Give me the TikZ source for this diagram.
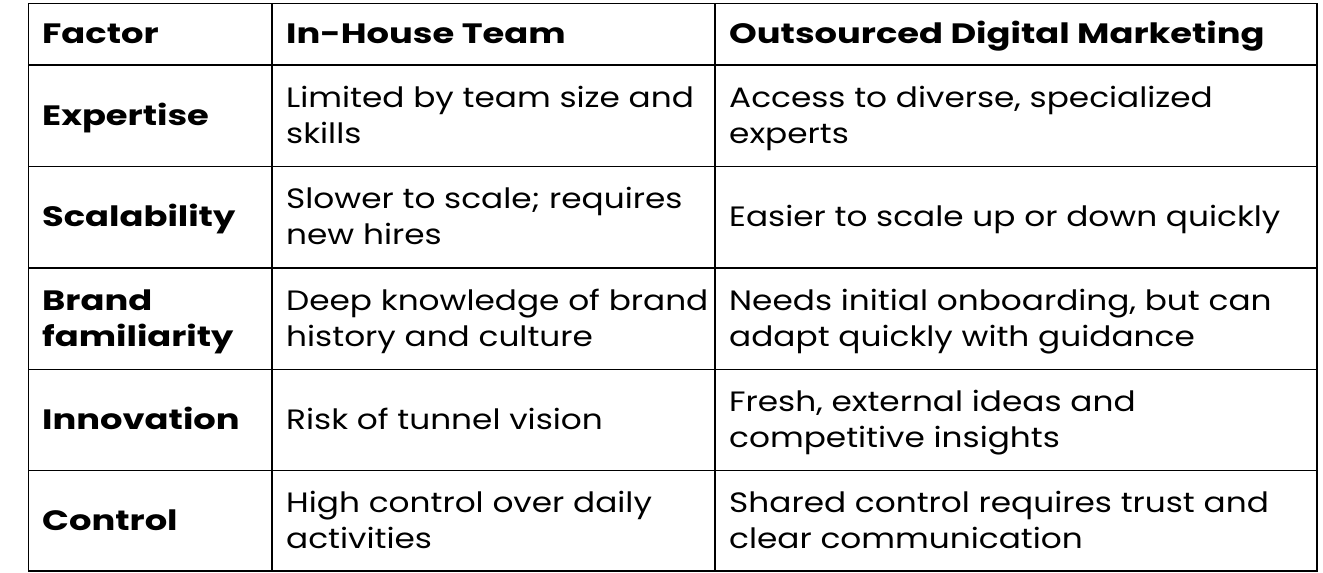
\documentclass[tikz,border=0pt]{standalone}
\usepackage{fontspec}
\setmainfont{Poppins}[FakeStretch=1.17,BoldFeatures={FakeStretch=1.26}]
\begin{document}
\begin{tikzpicture}[x=1pt,y=-1pt,
  cell/.style={anchor=west,align=left,inner sep=0pt,font=\fontsize{28}{36}\selectfont},
  hcell/.style={cell,font=\fontsize{28}{36}\selectfont\bfseries},
  grid/.style={line width=1.3pt,black}]
\useasboundingbox (0,0) rectangle (1323,573);
\draw[grid] (28.5,3.5) rectangle (1317,571);
\foreach \y in {65,166.5,268,369.5,470.5} \draw[grid] (28.5,\y) -- (1317,\y);
\draw[grid] (272,3.5) -- (272,571);
\draw[grid] (715,3.5) -- (715,571);
\node[hcell] (h1) at (42,36) {\strut Factor};
\node[hcell] (h2) at (286,36) {\strut In-House Team};
\node[hcell] (h3) at (729,36) {\strut Outsourced Digital Marketing};
\node[hcell] (r1) at (42,118) {\strut Expertise};
\node[cell] (a1) at (286,118) {\strut Limited by team size and\\\strut skills};
\node[cell] (b1) at (729,118) {\strut Access to diverse, specialized\\\strut experts};
\node[hcell] (r2) at (42,219) {\strut Scalability};
\node[cell] (a2) at (286,219) {\strut Slower to scale; requires\\\strut new hires};
\node[cell] (b2) at (729,219) {\strut Easier to scale up or down quickly};
\node[hcell] (r3) at (42,321) {\strut Brand\\\strut familiarity};
\node[cell] (a3) at (286,321) {\strut Deep knowledge of brand\\\strut history and culture};
\node[cell] (b3) at (729,321) {\strut Needs initial onboarding, but can\\\strut adapt quickly with guidance};
\node[hcell] (r4) at (42,422) {\strut Innovation};
\node[cell] (a4) at (286,422) {\strut Risk of tunnel vision};
\node[cell] (b4) at (729,422) {\strut Fresh, external ideas and\\\strut competitive insights};
\node[hcell] (r5) at (42,523) {\strut Control};
\node[cell] (a5) at (286,523) {\strut High control over daily\\\strut activities};
\node[cell] (b5) at (729,523) {\strut Shared control requires trust and\\\strut clear communication};
\end{tikzpicture}
\end{document}
